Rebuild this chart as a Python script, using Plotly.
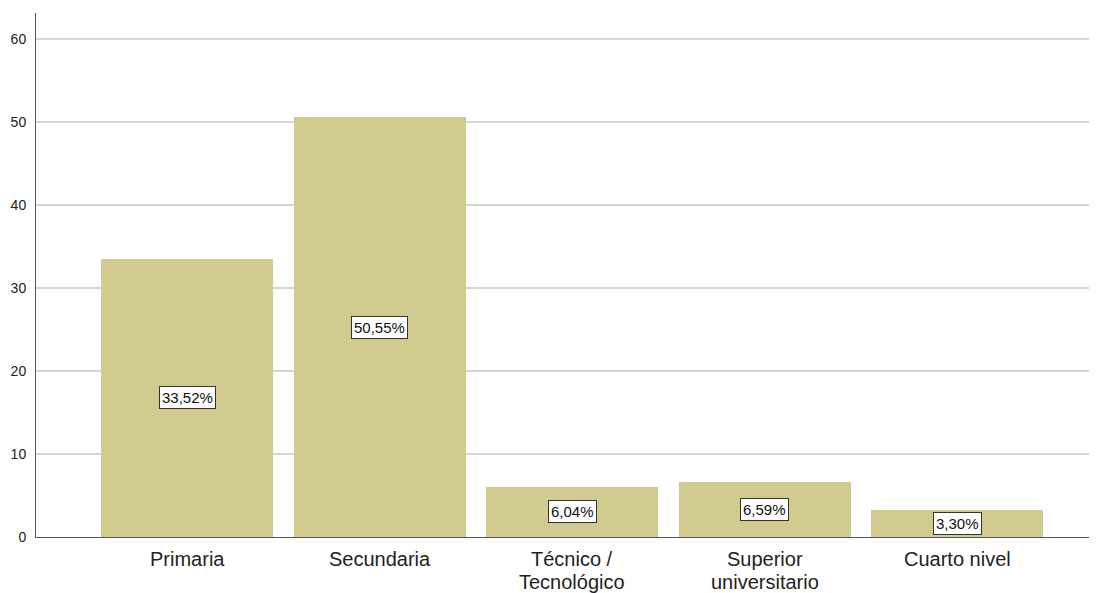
import plotly.graph_objects as go

categories = ["Primaria", "Secundaria", "Técnico /<br>Tecnológico", "Superior<br>universitario", "Cuarto nivel"]
values = [33.52, 50.55, 6.04, 6.59, 3.30]
labels = ["33,52%", "50,55%", "6,04%", "6,59%", "3,30%"]
y_ticks = [0, 10, 20, 30, 40, 50, 60]

FONT = "Liberation Sans, Arial"

fig = go.Figure()
fig.add_trace(go.Bar(
    x=list(range(len(categories))), y=values,
    marker=dict(color="#D1CB8F", line=dict(width=0)),
    width=0.894, hoverinfo="skip",
))

for i, (v, t) in enumerate(zip(values, labels)):
    fig.add_annotation(
        x=i, y=v / 2, text=t, showarrow=False,
        font=dict(family=FONT, size=15, color="#111"),
        bgcolor="white", bordercolor="#333", borderwidth=1, borderpad=2,
    )

# category labels, line by line
for i, c in enumerate(categories):
    for j, line in enumerate(c.split("<br>")):
        fig.add_annotation(
            x=i, xref="x", y=0, yref="paper", yanchor="middle",
            yshift=-22 - 23 * j, text=line, showarrow=False,
            font=dict(family=FONT, size=20, color="#222"),
        )

fig.update_layout(
    width=1089, height=585,
    margin=dict(l=28, r=0, t=5, b=56, autoexpand=False),
    paper_bgcolor="white", plot_bgcolor="white",
    showlegend=False,
    font=dict(family=FONT, color="#222"),
    bargap=0,
)
fig.update_xaxes(
    tickmode="array", tickvals=list(range(len(categories))), ticktext=[""] * len(categories),
    range=[-0.786, 4.726], showgrid=False, zeroline=False,
    showline=True, linecolor="#555", linewidth=1, ticks="", automargin=False,
)
fig.update_yaxes(
    range=[0, 63.1], tickmode="array", tickvals=y_ticks,
    showgrid=True, gridcolor="#D6D6D6", gridwidth=1.5,
    zeroline=False, showline=True, linecolor="#555", linewidth=1,
    tickfont=dict(family=FONT, size=14, color="#222"), ticks="", ticklabelstandoff=6,
    automargin=False,
)

fig.write_html("out.html")
